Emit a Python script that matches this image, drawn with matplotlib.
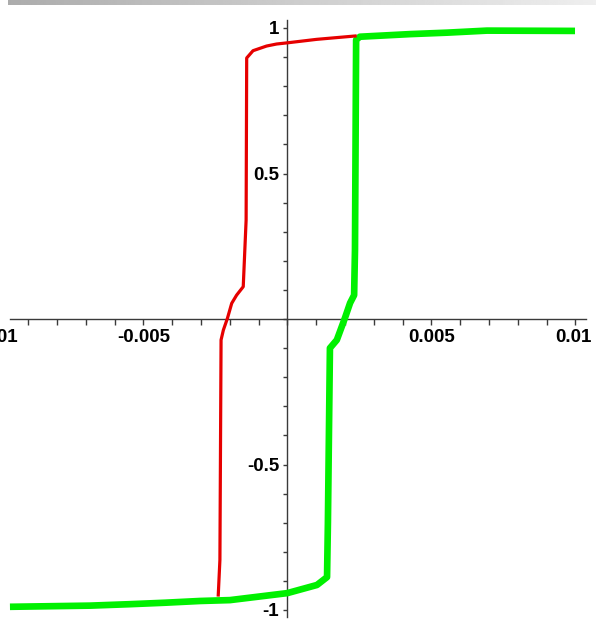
import numpy as np
import matplotlib
matplotlib.use("Agg")
import matplotlib.pyplot as plt

# Descending branch (red): field vs. normalised magnetisation
red_h = [0.00241, 0.00102, 0.0, -0.00037, -0.00072, -0.00119, -0.00141,
         -0.00143, -0.00153, -0.00176, -0.00193, -0.00208, -0.00222,
         -0.00230, -0.00234, -0.00240]
red_m = [0.973, 0.961, 0.949, 0.945, 0.938, 0.922, 0.897,
         0.340, 0.111, 0.082, 0.054, 0.002, -0.038,
         -0.072, -0.828, -0.954]

# Ascending branch (green)
green_h = [-0.00963, -0.00685, -0.00546, -0.00425, -0.00303, -0.00199, 0.0,
           0.00103, 0.00138, 0.00141, 0.00148, 0.00172, 0.00200, 0.00218,
           0.00232, 0.00235, 0.00239, 0.00252, 0.00426, 0.00555, 0.00693,
           0.00999]
green_m = [-0.989, -0.985, -0.980, -0.975, -0.969, -0.966, -0.942,
           -0.914, -0.887, -0.700, -0.100, -0.072, 0.003, 0.055,
           0.082, 0.237, 0.959, 0.970, 0.979, 0.984, 0.991,
           0.990]

x_labels = [-0.01, -0.005, 0.005, 0.01]
y_labels = [-1, -0.5, 0.5, 1]

W, H, DPI = 596, 629, 100
fig = plt.figure(figsize=(W / DPI, H / DPI), dpi=DPI)
fig.patch.set_facecolor("white")

# gray title strip along the top edge
strip = fig.add_axes([8 / W, 1 - 5 / H, 1 - 8 / W, 5 / H])
grad = np.linspace(0, 1, 256).reshape(1, -1)
strip.imshow(grad, aspect="auto", cmap="gray", vmin=-2.6, vmax=1.25)
strip.axis("off")

ax = fig.add_axes([0, 0, 1, 1])
x0, sx = 287.3, 0.001 / 28.8   # pixel origin / data per pixel
y0, sy = 319.0, 1 / 291.0
ax.set_xlim((0 - x0) * sx, (W - x0) * sx)
ax.set_ylim((y0 - H) * sy, (y0 - 0) * sy)

ax.plot(green_h, green_m, color="#00f000", lw=4.8, solid_capstyle="butt",
        solid_joinstyle="round", zorder=3)
ax.plot(red_h, red_m, color="#e60000", lw=2.3, solid_capstyle="butt",
        solid_joinstyle="round", zorder=4)

axis_col = "#3a3a3a"
for s in ("top", "right"):
    ax.spines[s].set_visible(False)
ax.spines["left"].set_position(("data", 0))
ax.spines["bottom"].set_position(("data", 0))
ax.spines["bottom"].set_bounds((10 - x0) * sx, (586 - x0) * sx)
ax.spines["left"].set_bounds((y0 - 617) * sy, (y0 - 20) * sy)
for s in ("left", "bottom"):
    ax.spines[s].set_color(axis_col)
    ax.spines[s].set_linewidth(1.0)
ax.set_facecolor("none")

xt = np.round(np.arange(-0.009, 0.01001, 0.001), 4)
yt = np.round(np.arange(-1.0, 1.0001, 0.1), 2)
ax.set_xticks(xt)
ax.set_yticks(yt)
ax.set_xticklabels([])
ax.set_yticklabels([])
ax.tick_params(axis="x", direction="out", length=4, width=1, color=axis_col)
ax.tick_params(axis="y", direction="out", length=3, width=1, color=axis_col)

font = dict(family=["Liberation Sans", "DejaVu Sans"], weight="bold",
            size=13.5, color="black")
for v in x_labels:
    if v == x_labels[0]:
        # leftmost label runs off the figure edge
        ax.annotate(f"{v:g}", xy=(v, 0), xytext=(19, -10),
                    textcoords="offset pixels", ha="right", va="top",
                    annotation_clip=False, **font)
        continue
    ax.annotate(f"{v:g}", xy=(v, 0), xytext=(-2 if v > 0.008 else 0, -10),
                textcoords="offset pixels", ha="center", va="top",
                annotation_clip=False, **font)
for v in y_labels:
    ax.annotate(f"{v:g}", xy=(0, v), xytext=(-8, -2),
                textcoords="offset pixels", ha="right", va="center",
                annotation_clip=False, **font)

fig.savefig("out.png", dpi=DPI, facecolor="white")
